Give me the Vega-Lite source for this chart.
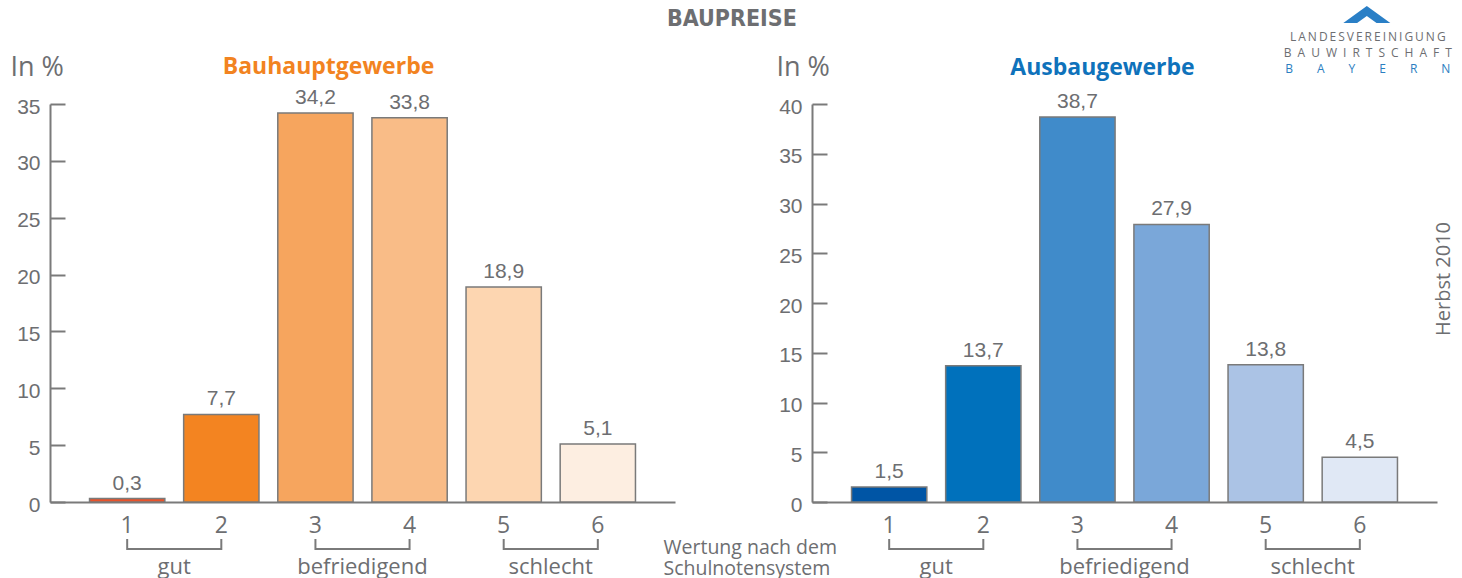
{
  "$schema": "https://vega.github.io/schema/vega-lite/v6.json",
  "background": "white",
  "padding": {"left": 10, "top": 5, "right": 5, "bottom": 0},
  "title": {"text": "BAUPREISE", "font": "Liberation Sans Narrow, DejaVu Sans Condensed, sans-serif", "fontSize": 23, "fontWeight": "bold", "color": "#6d6e71", "anchor": "middle", "baseline": "top", "offset": -25},
  "spacing": 137,
  "bounds": "flush",
  "resolve": {"scale": {"color": "independent"}},
  "config": {
    "view": {"stroke": null},
    "locale": {"number": {"decimal": ",", "thousands": ".", "grouping": [3], "currency": ["", " €"]}},
    "axisX": {"domainColor": "#7a7a7a", "domainWidth": 2, "ticks": false, "labelFont": "Open Sans", "labelFontSize": 23, "labelColor": "#6d6e71", "labelPadding": 12, "labelAngle": 0, "titleFont": "Open Sans", "titleFontSize": 19.5, "titleFontWeight": "normal", "titleColor": "#6d6e71"},
    "axisY": {"domainColor": "#7a7a7a", "domainWidth": 2, "tickColor": "#7a7a7a", "tickWidth": 2, "tickSize": -15, "labelFont": "Liberation Sans", "labelFontSize": 21, "labelColor": "#6d6e71", "labelPadding": 25, "labelOffset": 3, "grid": false, "titleAngle": 0, "titleFont": "Open Sans", "titleFontSize": 27, "titleFontWeight": "normal", "titleColor": "#6d6e71", "titleAlign": "left", "titleBaseline": "top", "titleY": -50}
  },
  "hconcat": [
    {
      "width": 625,
      "height": 398,
      "title": {"text": "Bauhauptgewerbe", "color": "#f28321", "font": "Open Sans", "fontSize": 23, "fontWeight": "bold", "anchor": "middle", "dx": -34, "baseline": "top", "offset": -26},
      "data": {"values": [
        {"grade": "1", "value": 0.3},
        {"grade": "2", "value": 7.7},
        {"grade": "3", "value": 34.2},
        {"grade": "4", "value": 33.8},
        {"grade": "5", "value": 18.9},
        {"grade": "6", "value": 5.1}
      ]},
      "layer": [
        {
          "mark": {"type": "bar", "stroke": "#7a7a7a", "strokeWidth": 1.5},
          "encoding": {
            "x": {"field": "grade", "type": "nominal", "scale": {"paddingInner": 0.2, "paddingOuter": 0.42}, "axis": {"title": ["Wertung nach dem", "Schulnotensystem"], "titleX": 613, "titleY": 51, "titleAlign": "left", "titleBaseline": "alphabetic", "titleLineHeight": 21}},
            "y": {"field": "value", "type": "quantitative", "scale": {"domain": [0, 35]}, "axis": {"values": [0, 5, 10, 15, 20, 25, 30, 35], "title": "In %", "titleX": -40}},
            "color": {"field": "grade", "type": "nominal", "scale": {"domain": ["1", "2", "3", "4", "5", "6"], "range": ["#e9532b", "#f38421", "#f6a55e", "#f9bc87", "#fdd6b1", "#fdeee1"]}, "legend": null}
          }
        },
        {
          "mark": {"type": "text", "dy": -9, "baseline": "alphabetic", "font": "Liberation Sans", "fontSize": 21, "color": "#6d6e71"},
          "encoding": {
            "x": {"field": "grade", "type": "nominal"},
            "y": {"field": "value", "type": "quantitative"},
            "text": {"field": "value", "type": "quantitative", "format": ".1f"}
          }
        },
        {
          "mark": {"type": "rule", "color": "#7a7a7a", "strokeWidth": 2, "yOffset": 37, "y2Offset": 48},
          "encoding": {"x": {"field": "grade", "type": "nominal"}, "y": {"datum": 0}, "y2": {"datum": 0}}
        },
        {
          "data": {"values": [
            {"group": "gut", "from": "1", "to": "2"},
            {"group": "befriedigend", "from": "3", "to": "4"},
            {"group": "schlecht", "from": "5", "to": "6"}
          ]},
          "mark": {"type": "rule", "color": "#7a7a7a", "strokeWidth": 2, "yOffset": 47},
          "encoding": {"x": {"field": "from", "type": "nominal"}, "x2": {"field": "to"}, "y": {"datum": 0}}
        },
        {
          "data": {"values": [
            {"group": "gut", "from": "1", "to": "2"},
            {"group": "befriedigend", "from": "3", "to": "4"},
            {"group": "schlecht", "from": "5", "to": "6"}
          ]},
          "mark": {"type": "text", "xOffset": 47, "yOffset": 72, "baseline": "alphabetic", "font": "Open Sans", "fontSize": 22, "color": "#6d6e71"},
          "encoding": {"x": {"field": "from", "type": "nominal"}, "y": {"datum": 0}, "text": {"field": "group"}}
        }
      ]
    },
    {
      "width": 625,
      "height": 398,
      "title": {"text": "Ausbaugewerbe", "color": "#0f72bb", "font": "Open Sans", "fontSize": 23, "fontWeight": "bold", "anchor": "middle", "dx": -22, "baseline": "top", "offset": -74},
      "data": {"values": [
        {"grade": "1", "value": 1.5},
        {"grade": "2", "value": 13.7},
        {"grade": "3", "value": 38.7},
        {"grade": "4", "value": 27.9},
        {"grade": "5", "value": 13.8},
        {"grade": "6", "value": 4.5}
      ]},
      "layer": [
        {
          "mark": {"type": "bar", "stroke": "#7a7a7a", "strokeWidth": 1.5},
          "encoding": {
            "x": {"field": "grade", "type": "nominal", "scale": {"paddingInner": 0.2, "paddingOuter": 0.42}, "axis": {"title": null}},
            "y": {"field": "value", "type": "quantitative", "scale": {"domain": [0, 40]}, "axis": {"values": [0, 5, 10, 15, 20, 25, 30, 35, 40], "title": "In %", "titleX": -36}},
            "color": {"field": "grade", "type": "nominal", "scale": {"domain": ["1", "2", "3", "4", "5", "6"], "range": ["#0055a5", "#0071bc", "#408bca", "#7aa7d9", "#abc3e5", "#e0e8f5"]}, "legend": null}
          }
        },
        {
          "mark": {"type": "text", "dy": -9, "baseline": "alphabetic", "font": "Liberation Sans", "fontSize": 21, "color": "#6d6e71"},
          "encoding": {
            "x": {"field": "grade", "type": "nominal"},
            "y": {"field": "value", "type": "quantitative"},
            "text": {"field": "value", "type": "quantitative", "format": ".1f"}
          }
        },
        {
          "mark": {"type": "rule", "color": "#7a7a7a", "strokeWidth": 2, "yOffset": 37, "y2Offset": 48},
          "encoding": {"x": {"field": "grade", "type": "nominal"}, "y": {"datum": 0}, "y2": {"datum": 0}}
        },
        {
          "data": {"values": [
            {"group": "gut", "from": "1", "to": "2"},
            {"group": "befriedigend", "from": "3", "to": "4"},
            {"group": "schlecht", "from": "5", "to": "6"}
          ]},
          "mark": {"type": "rule", "color": "#7a7a7a", "strokeWidth": 2, "yOffset": 47},
          "encoding": {"x": {"field": "from", "type": "nominal"}, "x2": {"field": "to"}, "y": {"datum": 0}}
        },
        {
          "data": {"values": [
            {"group": "gut", "from": "1", "to": "2"},
            {"group": "befriedigend", "from": "3", "to": "4"},
            {"group": "schlecht", "from": "5", "to": "6"}
          ]},
          "mark": {"type": "text", "xOffset": 47, "yOffset": 72, "baseline": "alphabetic", "font": "Open Sans", "fontSize": 22, "color": "#6d6e71"},
          "encoding": {"x": {"field": "from", "type": "nominal"}, "y": {"datum": 0}, "text": {"field": "group"}}
        },
        {
          "data": {"values": [{"note": "Herbst 2010"}]},
          "mark": {"type": "text", "angle": 270, "font": "Open Sans", "fontSize": 20, "color": "#6d6e71", "align": "center", "baseline": "middle", "xOffset": 84, "yOffset": -24},
          "encoding": {"x": {"datum": "6"}, "y": {"datum": 20}, "text": {"field": "note"}}
        },
        {
          "data": {"values": [{"t": "L\u2009A\u2009N\u2009D\u2009E\u2009S\u2009V\u2009E\u2009R\u2009E\u2009I\u2009N\u2009I\u2009G\u2009U\u2009N\u2009G"}]},
          "mark": {"type": "text", "font": "Open Sans", "fontSize": 12, "color": "#6d6e71", "align": "center", "baseline": "middle", "xOffset": 8, "yOffset": -67},
          "encoding": {"x": {"datum": "6"}, "y": {"datum": 40}, "text": {"field": "t"}}
        },
        {
          "data": {"values": [{"t": "B\u2002A\u2002U\u2002W\u2002I\u2002R\u2002T\u2002S\u2002C\u2002H\u2002A\u2002F\u2002T"}]},
          "mark": {"type": "text", "font": "Open Sans", "fontSize": 12, "color": "#6d6e71", "align": "center", "baseline": "middle", "xOffset": 8, "yOffset": -51},
          "encoding": {"x": {"datum": "6"}, "y": {"datum": 40}, "text": {"field": "t"}}
        },
        {
          "data": {"values": [{"t": "B\u2003\u2003A\u2003\u2003Y\u2003\u2003E\u2003\u2003R\u2003\u2003N"}]},
          "mark": {"type": "text", "font": "Open Sans", "fontSize": 12, "color": "#2b7ec1", "align": "center", "baseline": "middle", "xOffset": 8, "yOffset": -35},
          "encoding": {"x": {"datum": "6"}, "y": {"datum": 40}, "text": {"field": "t"}}
        },
        {
          "data": {"values": [{"t": "logo"}]},
          "mark": {"type": "point", "shape": "M-1,0.362L0,-0.362L1,0.362L0.413,0.362L0,0.064L-0.413,0.362Z", "size": 2209, "filled": true, "color": "#2a7fc6", "opacity": 1, "strokeWidth": 0, "xOffset": 7, "yOffset": -89.5},
          "encoding": {"x": {"datum": "6"}, "y": {"datum": 40}}
        }
      ]
    }
  ]
}
